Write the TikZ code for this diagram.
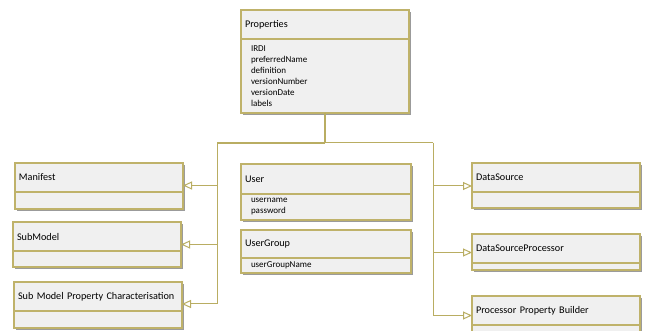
\documentclass[tikz,border=0pt]{standalone}
\usepackage{fontspec}
\setmainfont{Carlito}
\usetikzlibrary{arrows.meta,shadows}

\definecolor{boxfill}{HTML}{F0F0F0}
\definecolor{bord}{HTML}{BFB26A}
\definecolor{wire}{HTML}{B9AD62}
\definecolor{shade}{HTML}{8A8A8A}

\tikzset{
  box/.style={draw=bord, fill=boxfill, line width=1.1pt, anchor=north west,
    align=left, inner ysep=0pt, outer sep=0pt,
    execute at begin node={\hyphenpenalty=10000},
    drop shadow={shadow xshift=2pt, shadow yshift=-2.2pt, fill=shade, opacity=.85}},
  head/.style={box, inner xsep=4pt, text width=160pt, minimum height=29pt,
    font=\fontsize{10.2}{12}\selectfont},
  body/.style={box, inner xsep=10pt, text width=148pt,
    font=\fontsize{9}{11}\selectfont},
  wide/.style={text width=#1},
  conn/.style={draw=wire, line width=1pt},
  stem/.style={draw=wire, line width=1.8pt},
  inh/.style={conn, -{Triangle[open, length=9pt, width=8pt]}},
}

\begin{document}
\begin{tikzpicture}[x=1pt, y=-1pt]
\useasboundingbox (0,0) rectangle (646,331);

% central class
\node[head] (prop) at (241,10) {Properties};
\node[body, minimum height=74pt] (propb) at (prop.south west)
  {IRDI\\preferredName\\definition\\versionNumber\\versionDate\\labels};

% left column
\node[head] (man) at (15,163) {Manifest};
\node[body, minimum height=17pt] (manb) at (man.south west) {};
\node[head] (sub) at (13,222) {SubModel};
\node[body, minimum height=16pt] (subb) at (sub.south west) {};
\node[head] (spc) at (14,282) {Sub Model Property Characterisation};
\node[body, minimum height=17pt] (spcb) at (spc.south west) {};

% middle column
\node[head, wide=162pt, minimum height=30pt] (user) at (241,164) {User};
\node[body, wide=150pt, minimum height=26pt] (userb) at (user.south west)
  {username\\password};
\node[head, wide=162pt, minimum height=28pt] (ugrp) at (241,230) {UserGroup};
\node[body, wide=150pt, minimum height=15pt] (ugrpb) at (ugrp.south west)
  {userGroupName};

% right column
\node[head] (ds) at (472,163) {DataSource};
\node[body, minimum height=16pt] (dsb) at (ds.south west) {};
\node[head] (dsp) at (472,234) {DataSourceProcessor};
\node[body, minimum height=7pt] (dspb) at (dsp.south west) {};
\node[head] (ppb) at (472,296) {Processor Property Builder};
\node[body, minimum height=17pt] (ppbb) at (ppb.south west) {};

% generalisation tree
\draw[stem] (propb.south) -- ++(0,30) coordinate (hub);
\coordinate (busL) at (217,143);
\coordinate (busR) at (433,143);
\draw[stem] (hub) -- (busL);
\draw[conn] (hub) -- (busR);

\draw[inh] (busL) |- ([yshift=-8pt]man.east);
\draw[inh] (busL) |- ([yshift=-8pt]sub.east);
\draw[inh] (busL) |- ([yshift=-7.5pt]spc.east);

\draw[inh] (busR) |- ([yshift=-8.5pt]ds.west);
\draw[inh] (busR) |- ([yshift=-4pt]dsp.west);
\draw[inh] (busR) |- ([yshift=-5pt]ppb.west);
\end{tikzpicture}
\end{document}
